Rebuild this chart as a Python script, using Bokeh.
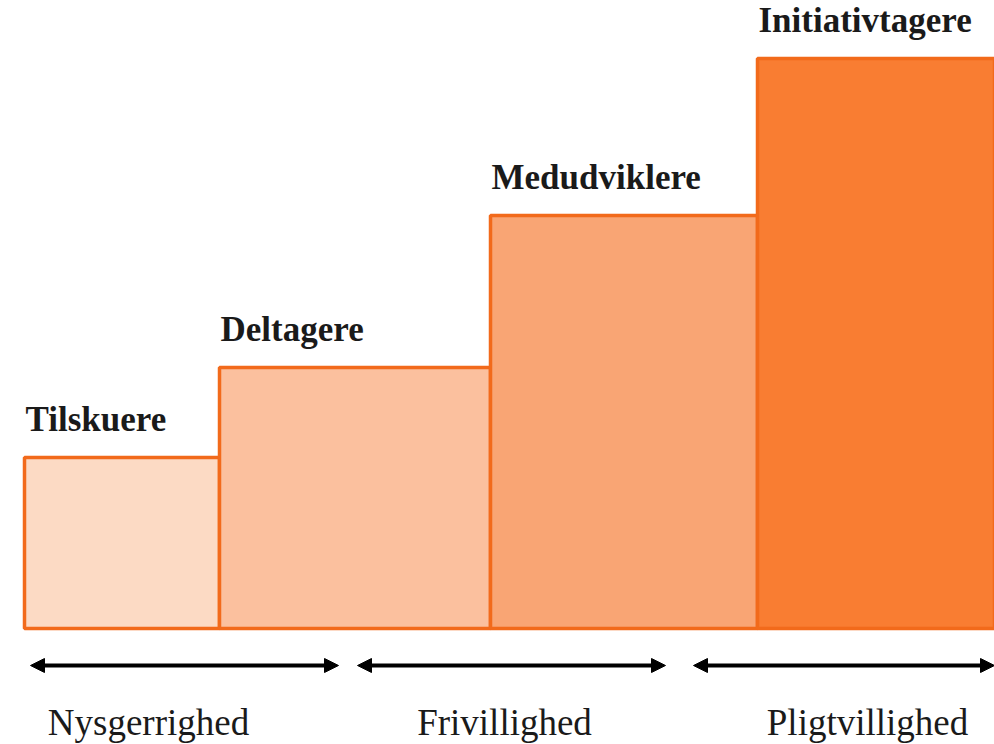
from bokeh.plotting import figure
from bokeh.models import Range1d, ColumnDataSource, Arrow, NormalHead
from bokeh.core.properties import value
from bokeh.embed import file_html
from bokeh.resources import INLINE

# --- data ---
stages = ["Tilskuere", "Deltagere", "Medudviklere", "Initiativtagere"]
stage_left = [24, 219, 490, 757]
stage_right = [219, 490, 757, 994]
stage_height = [171, 261, 413, 570]

groups = ["Nysgerrighed", "Frivillighed", "Pligtvillighed"]
group_start = [30, 357, 693]
group_end = [338, 665, 994]
group_label_x = [148, 504, 867]

fills = ["#FCDAC4", "#FBC09E", "#F9A574", "#F97D32"]
edge = "#F26A1B"

p = figure(width=994, height=744, output_backend="svg", toolbar_location=None,
           x_range=Range1d(0, 994), y_range=Range1d(-116, 628), min_border=0)
p.axis.visible = False
p.grid.visible = False
p.outline_line_color = None
p.background_fill_color = "white"

src = ColumnDataSource(dict(
    left=stage_left, right=stage_right, top=stage_height,
    bottom=[0] * len(stages), fill=fills, name=stages,
    lx=[l + 1 for l in stage_left], ly=[h + 38 for h in stage_height],
))
p.quad(left="left", right="right", top="top", bottom="bottom", source=src,
       fill_color="fill", line_color=edge, line_width=3.5)

p.text(x="lx", y="ly", text="name", source=src, text_font=value("Liberation Serif"),
       text_font_style="bold", text_font_size="35px", text_color="#1a1a1a",
       text_baseline="alphabetic", text_align="left")

arrow_y = -37
for s, e in zip(group_start, group_end):
    p.add_layout(Arrow(x_start=s, x_end=e, y_start=arrow_y, y_end=arrow_y,
                       line_color="black", line_width=4,
                       start=NormalHead(size=14, fill_color="black", line_color="black"),
                       end=NormalHead(size=14, fill_color="black", line_color="black")))

gsrc = ColumnDataSource(dict(
    x=group_label_x, y=[-94] * len(groups), name=groups,
))
p.text(x="x", y="y", text="name", source=gsrc, text_font=value("Liberation Serif"),
       text_font_size="37px", text_color="#1a1a1a",
       text_baseline="alphabetic", text_align="center")

open("out.html", "w").write(file_html(p, INLINE))
